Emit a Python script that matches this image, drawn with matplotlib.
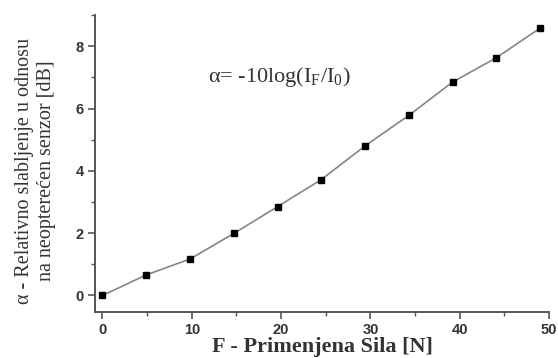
import matplotlib
matplotlib.use("Agg")
import matplotlib.pyplot as plt
from matplotlib.ticker import MultipleLocator

# Applied force [N] and relative attenuation [dB]
force = [0, 4.9, 9.8, 14.7, 19.6, 24.5, 29.4, 34.3, 39.2, 44.1, 49.0]
alpha = [0.0, 0.66, 1.17, 1.99, 2.85, 3.72, 4.80, 5.78, 6.85, 7.63, 8.58]

xlabel = "F - Primenjena Sila [N]"
ylabel = "\u03b1 - Relativno slabljenje u odnosu\nna neoptere\u0107en senzor [dB]"

serif = ["Liberation Serif", "DejaVu Serif"]
sans = ["Liberation Sans", "DejaVu Sans"]
axis_col = "#555555"
text_col = "#333333"

plt.rcParams["mathtext.fontset"] = "custom"
plt.rcParams["mathtext.rm"] = "Liberation Serif"

fig = plt.figure(figsize=(5.58, 3.58), dpi=100)
ax = fig.add_axes([0.170, 0.1285, 0.814, 0.8295])

ax.plot(force, alpha, color="#858585", lw=1.2, zorder=2)
ax.plot(force, alpha, ls="none", marker="s", ms=4.8, color="black", zorder=3)

ax.set_xlim(-0.85, 50)
ax.set_ylim(-0.53, 9.0)

ax.xaxis.set_major_locator(MultipleLocator(10))
ax.xaxis.set_minor_locator(MultipleLocator(5))
ax.yaxis.set_major_locator(MultipleLocator(2))
ax.yaxis.set_minor_locator(MultipleLocator(1))

for s in ("top", "right"):
    ax.spines[s].set_visible(False)
for s in ("left", "bottom"):
    ax.spines[s].set_color(axis_col)
    ax.spines[s].set_linewidth(1.4)

ax.tick_params(which="major", direction="out", length=5, width=1.2,
               color=axis_col, labelcolor=text_col, labelsize=10.5, pad=3)
ax.tick_params(which="minor", direction="out", length=3, width=1.0, color=axis_col)
for lbl in ax.get_xticklabels() + ax.get_yticklabels():
    lbl.set_fontfamily(sans)
    lbl.set_fontweight("bold")

ax.set_xlabel(xlabel, fontfamily=serif, fontsize=16, fontweight="bold",
              color=text_col, labelpad=0)

fig.text(35.5 / 558, 1 - 171 / 358, ylabel, rotation=90, ha="center", va="center",
         fontfamily=serif, fontsize=14.5, color=text_col, linespacing=1.15,
         multialignment="center")

ax.text(0.249, 0.791, "\u03b1= -10log(I$_{\\mathregular{F}}$/I$_{\\mathregular{0}}$)",
        transform=ax.transAxes, fontfamily=serif, fontsize=16, color=text_col,
        ha="left", va="center")

fig.savefig("out.png", dpi=100)
